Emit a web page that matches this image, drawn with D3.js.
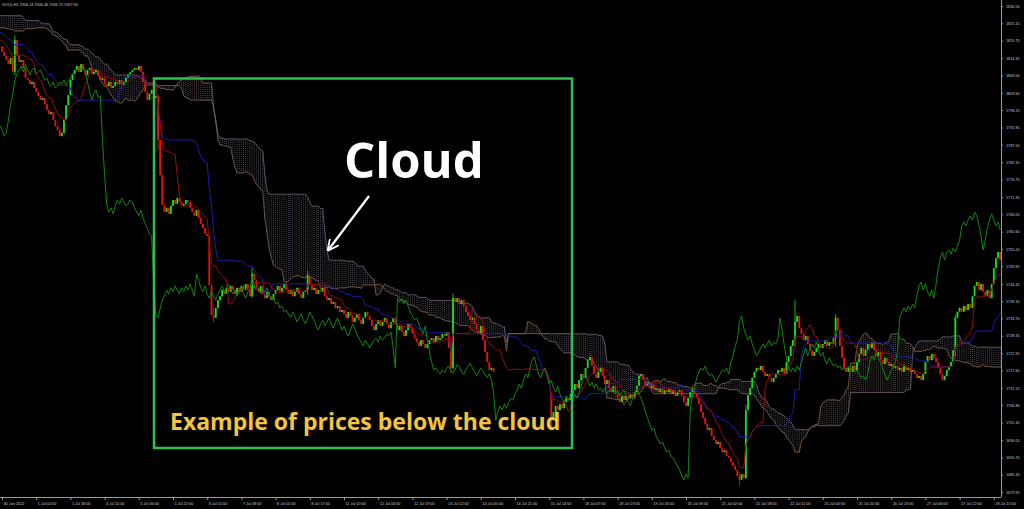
<!DOCTYPE html>
<html><head><meta charset="utf-8">
<script src="https://cdn.jsdelivr.net/npm/d3@7"></script>
<style>html,body{margin:0;padding:0;background:#000;overflow:hidden}</style>
</head><body>
<svg id="c" width="1024" height="509" style="display:block;background:#000"></svg>
<script>
// ---------- DATA (H1 closes) ----------
const preCloses = [
1832,1833,1830,1831,1834,1835,1833,1832,1834,1836,1835,1833,1831,1832,1830,1829,1831,1833,1832,1830,1828,1829,1831,1830,1828,1827,
1826,1828,1827,1825,1823,1824,1822,1820,1821,1823,1825,1824,1822,1821,1819,1820,1822,1824,1826,1825,1827,1826,1824,1823,1822,1821,
1822,1824,1826,1825,1823,1821,1819,1820,1822,1824,1826,1828,1827,1825,1826,1824,1822,1820,1821,1823,1822,1820,1819,1818,1817,1818];
const closesA = [
1816.3,1815.0,1813.8,1812.5,1814.4,1810.1,1820.0,1815.3,1813.2,1813.8,1811.3,1808.2,1807.6,1806.3,1807.0,1805.1,
1803.9,1802.6,1801.4,1802.0,1800.1,1798.3,1797.0,1797.6,1795.2,1793.3,1792.1,1790.2,1791.2,1795.2,1799.8,1802.9,
1807.6,1809.4,1810.7,1811.9,1810.1,1812.5,1810.7,1809.1,1810.7,1811.3,1809.4,1810.1,1810.7,1808.8,1807.6,1808.2,
1806.3,1805.7,1807.0,1805.1,1805.7,1807.0,1806.3,1807.6,1806.0,1807.0,1808.2,1809.4,1810.1,1810.7,1811.3,1810.7,
1811.9,1810.1,1807.0,1803.9,1801.4,1803.3,1804.5,1802.0,1802.6,1789.0,1778.1,1768.9,1766.7,1768.0,1766.1,1768.6,
1770.4,1769.2,1771.0,1769.8,1768.6,1769.2,1770.4,1769.8,1768.0,1766.7,1765.5,1767.3,1764.8,1763.0,1761.7,1759.9,
1759.2,1744.1,1734.8,1733.9,1736.9,1739.4,1740.6,1742.5,1741.3,1743.2,1742.0,1743.8,1742.5,1741.3,1743.2,1742.0,
1743.8,1742.5,1744.4,1742.5,1740.6,1747.5,1745.6,1743.2,1742.0,1743.8,1741.3,1740.0,1742.0,1740.6,1739.4,1741.3,
1742.5,1743.8,1742.0,1743.2,1744.4,1742.5,1741.3,1742.5,1740.6,1742.0,1743.2,1741.3,1740.0,1742.0,1742.5,1746.9,
1743.8,1742.5,1743.2,1741.3,1742.5,1742.0,1743.2,1740.6,1739.4,1740.0,1738.2,1738.8,1736.9,1737.5,1735.7,1736.3,
1735.1,1733.9,1735.7,1734.5,1732.6,1733.9,1735.1,1733.2,1732.0,1733.9,1735.7,1734.5,1733.2,1731.4,1730.1,1732.0,
1733.2,1731.4,1732.6,1733.9,1732.0,1730.7,1732.6,1733.9,1732.0,1730.1,1731.4,1729.5,1728.3,1730.1,1732.0,1730.7,
1728.9,1727.6,1726.4,1725.2,1727.0,1725.8,1724.6,1725.8,1727.0,1727.6,1726.4,1728.3,1727.0,1727.6,1728.9,1728.3,
1729.5,1724.6,1718.4,1740.0,1738.8,1740.0,1738.2,1739.4,1737.5,1735.7,1734.5,1733.2,1733.9,1732.0,1730.1,1728.9,
1731.4,1727.0,1723.3,1720.2,1717.7,1718.4,1717.2];
const closesGap = [
1716.5,1717.7,1716.9,1718.2,1719.0,1717.6,1716.8,1718.0,1719.4,1718.6,1717.2,1716.4,1717.8,
1718.9,1719.8,1718.5,1717.3,1716.1,1717.0,1718.3,1717.5,1716.2,1715.4,1716.6,1714.8,1710.5];
const closesB = [
1702.2,1704.7,1706.6,1705.3,1707.2,1705.9,1707.8,1709.0,1708.4,1710.3,1711.5,1713.4,1712.1,1714.6,1716.5,1715.3,
1718.4,1720.8,1721.8,1719.0,1716.5,1715.3,1717.2,1718.4,1715.9,1713.4,1714.6,1712.1,1710.9,1712.8,1710.3,1709.0,
1707.8,1709.7,1708.4,1709.7,1709.0,1710.3,1709.0,1710.9,1712.8,1715.9,1716.5,1714.6,1712.8,1714.0,1712.1,1713.4,
1711.5,1712.1,1710.9,1712.1,1710.3,1711.5,1710.9,1712.1,1710.3,1711.5,1709.7,1710.9,1711.5,1709.7,1707.8,1706.6,
1709.0,1710.9,1712.1,1710.3,1709.0,1707.2,1704.7,1702.9,1701.0,1699.1,1699.8,1697.3,1696.1,1694.8,1695.5,1693.6,
1692.3,1692.9,1691.1,1690.5,1689.2,1688.0,1686.8,1684.9,1683.7,1685.5,1684.3,1705.3,1710.0,1712.1,1715.3,1717.2,
1718.4,1717.7,1719.0,1717.2,1715.9,1716.5,1715.3,1714.0,1715.3,1716.5,1717.7,1717.2,1718.4,1716.5,1720.2,1722.1,
1725.2,1727.0,1732.6,1734.5,1730.7,1728.9,1727.0,1728.3,1725.8,1723.9,1722.1,1723.3,1724.6,1725.8,1724.6,1725.8,
1727.0,1725.2,1726.4,1725.8,1727.6,1733.9,1730.1,1725.2,1721.5,1718.4,1717.2,1718.4,1717.2,1719.0,1717.7,1720.2,
1722.7,1724.6,1722.1,1724.0,1725.8,1724.6,1726.4,1724.0,1722.1,1723.3,1720.8,1719.6,1721.5,1720.2,1719.0,1719.6,
1718.4,1719.0,1717.7,1718.4,1717.2,1719.0,1717.7,1718.4,1717.2,1717.7,1716.5,1715.3,1715.9,1714.6,1716.5,1720.2,
1722.1,1720.8,1722.7,1721.5,1720.2,1718.4,1716.5,1714.6,1715.9,1717.7,1719.0,1720.2,1723.9,1733.9,1735.8,1737.0,
1735.8,1737.6,1736.3,1738.2,1737.0,1740.6,1743.8,1745.0,1742.5,1744.4,1742.0,1740.6,1742.5,1740.0,1744.4,1749.3,1752.4,1754.3,1751.8];
const futureCloses = [
1754.3,1754.9,1753.7,1755.5,1754.3,1756.2,1758.0,1762.4,1763.6,1762.4,1764.2,1765.5,1764.2,
1766.7,1765.5,1763.0,1759.3,1754.9,1758.0,1761.7,1764.2,1766.1,1764.2,1762.4,1763.6,1761.1];
// [bar index, high, low] for the long wicks
const wickSpikes = [[6,1821.5,1809.0],[73,1803.0,1786.0],[99,1737.0,1732.5],[117,1749.5,1740.0],
  [143,1748.5,1741.0],[210,1728.0,1716.5],[211,1741.5,1718.0],[257,1705.0,1699.0],[345,1686.0,1682.0],
  [348,1707.0,1684.0],[371,1739.5,1725.0],[390,1735.0,1725.0],[446,1735.0,1722.0]];
const hiddenRange = [231, 256];
const priceTicks = [1830.50,1825.15,1819.75,1814.35,1809.00,1803.60,1798.25,1792.85,1787.50,1782.10,
  1776.75,1771.35,1766.00,1760.60,1755.20,1749.85,1744.45,1739.10,1733.70,1728.35,1722.95,1717.60,
  1712.20,1706.80,1701.45,1696.05,1690.70,1685.30,1679.95];
const timeLabels = ["30 Jun 2022","1 Jul 02:00","1 Jul 18:00","4 Jul 11:00","5 Jul 06:00","5 Jul 22:00",
  "6 Jul 15:00","7 Jul 08:00","8 Jul 01:00","8 Jul 17:00","11 Jul 10:00","12 Jul 03:00","12 Jul 19:00",
  "13 Jul 12:00","14 Jul 05:00","14 Jul 21:00","15 Jul 14:00","18 Jul 07:00","18 Jul 23:00","19 Jul 16:00",
  "20 Jul 09:00","21 Jul 02:00","21 Jul 18:00","22 Jul 11:00","25 Jul 04:00","25 Jul 20:00","26 Jul 13:00",
  "27 Jul 06:00","27 Jul 22:00","28 Jul 15:00"];
const headerText = "GOLD,H1  1906.24 1906.46 1906.75 1907.96";

// ---------- BUILD ----------
const START = -preCloses.length;
const allC = preCloses.concat(closesA, closesGap, closesB, futureCloses);
const lastVisible = closesA.length + closesGap.length + closesB.length - 1;
const bars = allC.map((c,k)=>{const o = k>0?allC[k-1]:c; return {i:START+k,o,c,h:Math.max(o,c),l:Math.min(o,c)};});
wickSpikes.forEach(([i,h,l])=>{const b=bars[i-START]; b.h=Math.max(b.h,h); b.l=Math.min(b.l,l);});
function mid(k,n){ if(k-n+1<0) return null; let hi=-Infinity,lo=Infinity;
  for(let m=k-n+1;m<=k;m++){hi=Math.max(hi,bars[m].h);lo=Math.min(lo,bars[m].l);} return (hi+lo)/2; }
const tenkan = bars.map((b,k)=>({i:b.i,v:mid(k,9)}));
const kijun  = bars.map((b,k)=>({i:b.i,v:mid(k,26)}));
const spanA  = bars.map((b,k)=>{const t=mid(k,9),kj=mid(k,26);return {i:b.i+26,v:(t==null||kj==null)?null:(t+kj)/2};});
const spanB  = bars.map((b,k)=>({i:b.i+26,v:mid(k,52)}));
const chikou = bars.map(b=>({i:b.i-26,v:b.c}));

// ---------- DRAW ----------
const PR=1001, PB=497;
const svg = d3.select("#c");
const x = d3.scaleLinear().domain([0,16]).range([2,36.2]);
const y = d3.scaleLinear().domain([1679.95,1830.5]).range([492,6]);

const defs = svg.append("defs");
defs.append("clipPath").attr("id","plot").append("rect")
  .attr("x",0).attr("y",0).attr("width",PR).attr("height",PB);
const g = svg.append("g").attr("clip-path","url(#plot)");

// cloud (dotted histogram, MT4 style)
const cloud = spanA.map((a,k)=>({i:a.i,a:a.v,b:spanB[k].v})).filter(d=>d.a!=null&&d.b!=null);
g.append("g").selectAll("line").data(cloud).join("line")
  .attr("x1",d=>x(d.i)).attr("x2",d=>x(d.i))
  .attr("y1",d=>y(d.a)).attr("y2",d=>y(d.b))
  .attr("stroke",d=>d.a>=d.b?"#564a44":"#4e4a56").attr("stroke-width",1)
  .attr("stroke-dasharray","1,1");
const line = d3.line().defined(d=>d.v!=null).x(d=>x(d.i)).y(d=>y(d.v));
g.append("path").datum(spanA).attr("d",line).attr("fill","none").attr("stroke","#86644e").attr("stroke-width",0.8);
g.append("path").datum(spanB).attr("d",line).attr("fill","none").attr("stroke","#766878").attr("stroke-width",0.8);

// candles
const vis = bars.filter(b=>b.i>=0 && b.i<=lastVisible && !(b.i>=hiddenRange[0]&&b.i<=hiddenRange[1]));
const cg = g.append("g");
cg.selectAll("line").data(vis).join("line")
  .attr("x1",d=>x(d.i)).attr("x2",d=>x(d.i)).attr("y1",d=>y(d.h)).attr("y2",d=>y(d.l))
  .attr("stroke",d=>d.c>=d.o?"#14e014":"#ec1010").attr("stroke-width",0.8);
cg.selectAll("rect").data(vis).join("rect")
  .attr("x",d=>x(d.i)-0.9).attr("width",1.8)
  .attr("y",d=>y(Math.max(d.o,d.c))).attr("height",d=>Math.max(0.8,Math.abs(y(d.o)-y(d.c))))
  .attr("fill",d=>d.c>=d.o?"#14e014":"#ec1010");

// indicator lines
g.append("path").datum(kijun).attr("d",line).attr("fill","none").attr("stroke","#1c1cb4").attr("stroke-width",1);
g.append("path").datum(tenkan).attr("d",line).attr("fill","none").attr("stroke","#960c0c").attr("stroke-width",1);
g.append("path").datum(chikou).attr("d",line).attr("fill","none").attr("stroke","#0f860f").attr("stroke-width",1);

// axes
const axR = d3.axisRight(y).tickValues(priceTicks).tickFormat(d3.format(".2f")).tickSize(2).tickPadding(3);
const gr = svg.append("g").attr("transform",`translate(${PR},0)`).call(axR);
gr.select(".domain").attr("stroke","#9a9a9a").attr("d",`M0.5,0V${PB}`);
gr.selectAll(".tick line").attr("stroke","#9a9a9a");
gr.selectAll("text").attr("fill","#c8c8c8").style("font","3.8px 'Liberation Sans',Arial,sans-serif");

const timeIdx = timeLabels.map((_,k)=>k*16);
const axB = d3.axisBottom(x).tickValues(timeIdx).tickFormat((d,k)=>timeLabels[k]).tickSize(3).tickPadding(2);
const gb = svg.append("g").attr("transform",`translate(0,${PB})`).call(axB);
gb.select(".domain").attr("stroke","#9a9a9a").attr("d",`M0,0.5H${PR}`);
gb.selectAll(".tick line").attr("stroke","#9a9a9a");
gb.selectAll("text").attr("fill","#c8c8c8").attr("text-anchor","start").attr("dx",1)
  .style("font","3.8px 'Liberation Sans',Arial,sans-serif");

svg.append("text").attr("x",2).attr("y",6).text(headerText)
  .attr("fill","#c8c8c8").style("font","3.8px 'Liberation Sans',Arial,sans-serif");

// annotations
svg.append("rect").attr("x",154).attr("y",78.5).attr("width",418).attr("height",369.5)
  .attr("fill","none").attr("stroke","#2dbf4f").attr("stroke-width",2.5);
svg.append("text").attr("x",344).attr("y",178).text("Cloud")
  .attr("fill","#ffffff").style("font","700 49px 'Open Sans',sans-serif");
defs.append("marker").attr("id","ah").attr("viewBox","0 0 10 10").attr("refX",8).attr("refY",5)
  .attr("markerWidth",5).attr("markerHeight",5).attr("orient","auto")
  .append("path").attr("d","M0,0L10,5L0,10").attr("fill","none").attr("stroke","#fff").attr("stroke-width",1.6);
svg.append("line").attr("x1",369).attr("y1",196).attr("x2",329).attr("y2",249)
  .attr("stroke","#fff").attr("stroke-width",2.3).attr("marker-end","url(#ah)");
svg.append("text").attr("x",170).attr("y",430).text("Example of prices below the cloud")
  .attr("fill","#f3c43d").style("font","700 23px 'Open Sans',sans-serif");
</script>
</body></html>
